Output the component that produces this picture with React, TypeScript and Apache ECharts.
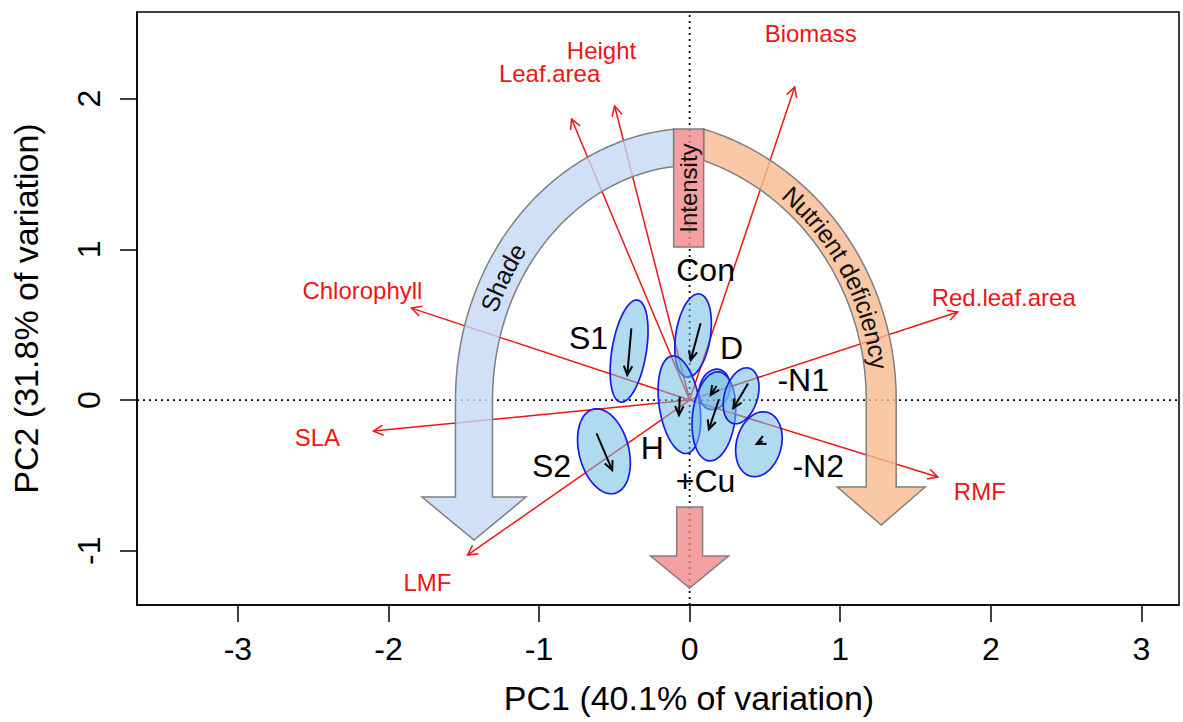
import React, { useEffect, useRef } from "react";
import * as echarts from "echarts";

const FONT = '"Liberation Sans", Arial, Helvetica, sans-serif';

// ---- Variable loadings (red arrows) ----
const loadingNames = ["Biomass", "Height", "Leaf.area", "Chlorophyll", "SLA", "LMF", "Red.leaf.area", "RMF"];
const loadingPC1 = [0.698, -0.498, -0.784, -1.847, -2.1, -1.475, 1.781, 1.648];
const loadingPC2 = [2.077, 1.951, 1.865, 0.61, -0.206, -1.029, 0.584, -0.511];
const loadingLabelPC1 = [0.804, -0.585, -0.93, -2.173, -2.472, -1.741, 2.086, 1.927];
const loadingLabelPC2 = [2.435, 2.322, 2.17, 0.73, -0.246, -1.214, 0.683, -0.61];

// ---- Treatment groups (ellipses + shift arrows) ----
const groupNames = ["Con", "D", "H", "+Cu", "S1", "S2", "-N1", "-N2"];
const groupPC1 = [0.023, 0.165, -0.068, 0.161, -0.402, -0.569, 0.342, 0.46];
const groupPC2 = [0.428, 0.071, -0.031, -0.108, 0.325, -0.34, 0.028, -0.293];
const groupSemiMajor = [0.279, 0.136, 0.327, 0.297, 0.343, 0.288, 0.191, 0.219];
const groupSemiMinor = [0.115, 0.1, 0.134, 0.142, 0.114, 0.165, 0.11, 0.149];
const groupAngle = [81.1, 75, 98.8, 83.6, 80.5, 104.5, 73.2, 75.3];
const shiftFromPC1 = [0.073, 0.179, -0.065, 0.195, -0.387, -0.618, 0.388, 0.485];
const shiftFromPC2 = [0.509, 0.093, 0.022, 0.005, 0.476, -0.221, 0.11, -0.272];
const shiftToPC1 = [0.007, 0.14, -0.071, 0.128, -0.414, -0.514, 0.29, 0.445];
const shiftToPC2 = [0.265, 0.033, -0.1, -0.194, 0.166, -0.465, -0.055, -0.292];
const groupLabelPC1 = [0.106, 0.279, -0.248, 0.106, -0.671, -0.917, 0.754, 0.854];
const groupLabelPC2 = [0.863, 0.345, -0.319, -0.537, 0.411, -0.438, 0.133, -0.438];

// ---- Axes ----
const xTicks = [-3, -2, -1, 0, 1, 2, 3];
const yTicks = [-1, 0, 1, 2];
const X_MIN = -3.67, X_MAX = 3.25, Y_MIN = -1.36, Y_MAX = 2.575;

// ---- Annotation shapes (in data units) ----
const bandNames = ["Shade", "Nutrient deficiency"];
const BAND_GEOM = [
  { side: -1, cx: 0.04, cy: 0, ao: 1.595, bo: 1.805, ai: 1.349, bi: 1.559, cut: -0.106, base: -0.644, headHalf: 0.345, tip: -0.929, textT: 151, fill: "rgba(195,216,245,0.8)" },
  { side: 1, cx: -0.395, cy: 0, ao: 1.767, bo: 1.871, ai: 1.568, bi: 1.672, cut: 0.093, base: -0.577, headHalf: 0.292, tip: -0.829, textT: 29, fill: "rgba(249,186,142,0.8)" },
];
const INTENSITY = { x0: -0.106, x1: 0.093, y0: 1.015, y1: 1.798 };
const DOWN_ARROW = { sx: 0.086, top: -0.71, base: -1.035, hx: 0.259, tip: -1.248 };

const RED = "#f01414";
const GREY = "#7f7f7f";

let measureCtx: CanvasRenderingContext2D | null = null;
function textWidth(s: string, size: number) {
  if (!measureCtx) measureCtx = document.createElement("canvas").getContext("2d");
  if (!measureCtx) return s.length * size * 0.55;
  measureCtx.font = `${size}px ${FONT}`;
  return measureCtx.measureText(s).width;
}

function arrowHead(from: number[], to: number[], len: number, deg: number) {
  const dx = to[0] - from[0], dy = to[1] - from[1];
  const d = Math.hypot(dx, dy) || 1;
  const bx = -dx / d, by = -dy / d;
  const a = (deg * Math.PI) / 180;
  const c = Math.cos(a), s = Math.sin(a);
  const p1 = [to[0] + len * (bx * c - by * s), to[1] + len * (bx * s + by * c)];
  const p2 = [to[0] + len * (bx * c + by * s), to[1] + len * (-bx * s + by * c)];
  return [p1, [to[0], to[1]], p2];
}

export default function App() {
  const ref = useRef<HTMLDivElement>(null);
  useEffect(() => {
    if (!ref.current) return;
    const chart = echarts.init(ref.current, undefined, { renderer: "svg" });

    const option: any = {
      animation: false,
      backgroundColor: "#ffffff",
      grid: { left: 137, right: 4, top: 12, bottom: 117, show: true, borderColor: "#000", borderWidth: 1.5 },
      xAxis: {
        type: "value", min: X_MIN, max: X_MAX,
        splitLine: { show: false },
        axisLine: { show: true, onZero: false, lineStyle: { color: "#000", width: 1.5 } },
        axisTick: { show: true, length: 17, customValues: xTicks, lineStyle: { color: "#000", width: 1.5 } },
        axisLabel: { customValues: xTicks, fontSize: 32, color: "#000", fontFamily: FONT, margin: 28 },
        name: "PC1 (40.1% of variation)", nameLocation: "middle", nameGap: 76,
        nameTextStyle: { fontSize: 34, color: "#000", fontFamily: FONT, padding: [0, 0, 0, 62] },
      },
      yAxis: {
        type: "value", min: Y_MIN, max: Y_MAX,
        splitLine: { show: false },
        axisLine: { show: true, onZero: false, lineStyle: { color: "#000", width: 1.5 } },
        axisTick: { show: true, length: 17, customValues: yTicks, lineStyle: { color: "#000", width: 1.5 } },
        axisLabel: { customValues: yTicks, fontSize: 32, color: "#000", fontFamily: FONT, margin: 32, rotate: 90 },
        name: "PC2 (31.8% of variation)", nameLocation: "middle", nameGap: 94,
        nameTextStyle: { fontSize: 34, color: "#000", fontFamily: FONT },
      },
      series: [
        // dotted zero lines
        {
          type: "custom", z: 1, silent: true, data: [[0, 0]],
          renderItem: (_p: any, api: any) => {
            const a = api.coord([X_MIN, 0]), b = api.coord([X_MAX, 0]);
            const c = api.coord([0, Y_MIN]), d = api.coord([0, Y_MAX]);
            const st = { stroke: "#000", lineWidth: 1.8, lineDash: [2, 4] };
            return {
              type: "group", children: [
                { type: "line", shape: { x1: a[0], y1: a[1], x2: b[0], y2: b[1] }, style: st },
                { type: "line", shape: { x1: c[0], y1: c[1], x2: d[0], y2: d[1] }, style: st },
              ],
            };
          },
        },
        // red loading arrows
        {
          type: "custom", z: 2, silent: true,
          data: loadingNames.map((n, i) => ({ name: n, value: [loadingPC1[i], loadingPC2[i]] })),
          renderItem: (_p: any, api: any) => {
            const o = api.coord([0, 0]);
            const t = api.coord([api.value(0), api.value(1)]);
            return {
              type: "group", children: [
                { type: "line", shape: { x1: o[0], y1: o[1], x2: t[0], y2: t[1] }, style: { stroke: RED, lineWidth: 1.5 } },
                { type: "polyline", shape: { points: arrowHead(o, t, 11, 28) }, style: { stroke: RED, lineWidth: 1.5, fill: null } },
              ],
            };
          },
        },
        // curved bands
        {
          type: "custom", z: 3, silent: true,
          data: bandNames.map((n, i) => ({ name: n, value: [BAND_GEOM[i].cx, BAND_GEOM[i].cy, i] })),
          renderItem: (p: any, api: any) => {
            const i = api.value(2);
            const g = BAND_GEOM[i];
            const name = bandNames[i];
            const pts: number[][] = [];
            const N = 90;
            const tO0 = Math.acos((g.cut - g.cx) / g.ao);
            const tEnd = g.side < 0 ? Math.PI : 0;
            for (let k = 0; k <= N; k++) {
              const t = tO0 + ((tEnd - tO0) * k) / N;
              pts.push(api.coord([g.cx + g.ao * Math.cos(t), g.cy + g.bo * Math.sin(t)]));
            }
            const sc = g.cx + (g.side * (g.ao + g.ai)) / 2;
            pts.push(api.coord([g.cx + g.side * g.ao, g.base]));
            pts.push(api.coord([sc + g.side * g.headHalf, g.base]));
            pts.push(api.coord([sc, g.tip]));
            pts.push(api.coord([sc - g.side * g.headHalf, g.base]));
            pts.push(api.coord([g.cx + g.side * g.ai, g.base]));
            const tI0 = Math.acos((g.cut - g.cx) / g.ai);
            for (let k = 0; k <= N; k++) {
              const t = tEnd + ((tI0 - tEnd) * k) / N;
              pts.push(api.coord([g.cx + g.ai * Math.cos(t), g.cy + g.bi * Math.sin(t)]));
            }
            const children: any[] = [
              { type: "polygon", shape: { points: pts }, style: { fill: g.fill, stroke: GREY, lineWidth: 1.5 } },
            ];
            // text along middle curve
            const am = (g.ao + g.ai) / 2, bm = (g.bo + g.bi) / 2;
            const tm = Math.acos((g.cut - g.cx) / am);
            const tA = g.side < 0 ? Math.PI : tm;
            const tB = g.side < 0 ? tm : 0;
            const M = 500;
            const P: number[][] = [];
            const L: number[] = [];
            const tc = (g.textT * Math.PI) / 180;
            let sC = 0;
            for (let k = 0; k <= M; k++) {
              const t = tA + ((tB - tA) * k) / M;
              const q = api.coord([g.cx + am * Math.cos(t), g.cy + bm * Math.sin(t)]);
              P.push(q);
              L.push(k === 0 ? 0 : L[k - 1] + Math.hypot(q[0] - P[k - 1][0], q[1] - P[k - 1][1]));
              const tPrev = tA + ((tB - tA) * (k - 1)) / M;
              if (k > 0 && ((tPrev >= tc && t <= tc) || (tPrev <= tc && t >= tc))) sC = L[k];
            }
            const fs = 25;
            const W = textWidth(name, fs);
            let acc = 0;
            for (let c = 0; c < name.length; c++) {
              const ch = name[c];
              const w = textWidth(ch, fs);
              const s = sC - W / 2 + acc + w / 2;
              acc += w;
              if (ch === " ") continue;
              let k = 0;
              while (k < M - 1 && L[k + 1] < s) k++;
              const seg = L[k + 1] - L[k] || 1;
              const f = Math.max(0, Math.min(1, (s - L[k]) / seg));
              const x = P[k][0] + (P[k + 1][0] - P[k][0]) * f;
              const y = P[k][1] + (P[k + 1][1] - P[k][1]) * f;
              const rot = Math.atan2(-(P[k + 1][1] - P[k][1]), P[k + 1][0] - P[k][0]);
              children.push({
                type: "text", x, y, rotation: rot,
                style: { text: ch, fill: "#111", fontSize: fs, fontFamily: FONT, align: "center", verticalAlign: "middle" },
              });
            }
            return { type: "group", children };
          },
        },
        // intensity box and downward arrow
        {
          type: "custom", z: 3, silent: true, data: [[0, 0]],
          renderItem: (_p: any, api: any) => {
            const a = api.coord([INTENSITY.x0, INTENSITY.y1]);
            const b = api.coord([INTENSITY.x1, INTENSITY.y0]);
            const mid = api.coord([(INTENSITY.x0 + INTENSITY.x1) / 2, (INTENSITY.y0 + INTENSITY.y1) / 2]);
            const d = DOWN_ARROW;
            const arrowPts = [
              [-d.sx, d.top], [d.sx, d.top], [d.sx, d.base], [d.hx, d.base], [0, d.tip], [-d.hx, d.base], [-d.sx, d.base],
            ].map((q) => api.coord(q));
            return {
              type: "group", children: [
                { type: "rect", shape: { x: a[0], y: a[1], width: b[0] - a[0], height: b[1] - a[1] }, style: { fill: "rgba(242,136,136,0.8)", stroke: GREY, lineWidth: 1.5 } },
                { type: "text", x: mid[0], y: mid[1], rotation: Math.PI / 2, style: { text: "Intensity", fill: "#111", fontSize: 24, fontFamily: FONT, align: "center", verticalAlign: "middle" } },
                { type: "polygon", shape: { points: arrowPts }, style: { fill: "rgba(242,136,136,0.8)", stroke: GREY, lineWidth: 1.5 } },
              ],
            };
          },
        },
        // group ellipses
        {
          type: "custom", z: 4, silent: true,
          data: groupNames.map((n, i) => ({ name: n, value: [groupPC1[i], groupPC2[i], groupSemiMajor[i], groupSemiMinor[i], groupAngle[i]] })),
          renderItem: (_p: any, api: any) => {
            const cx = api.value(0), cy = api.value(1), a = api.value(2), b = api.value(3);
            const phi = (api.value(4) * Math.PI) / 180;
            const pts: number[][] = [];
            for (let k = 0; k < 96; k++) {
              const t = (2 * Math.PI * k) / 96;
              const dx = a * Math.cos(t), dy = b * Math.sin(t);
              pts.push(api.coord([cx + dx * Math.cos(phi) - dy * Math.sin(phi), cy + dx * Math.sin(phi) + dy * Math.cos(phi)]));
            }
            return { type: "polygon", shape: { points: pts }, style: { fill: "rgba(110,188,226,0.55)", stroke: "#1a1ae6", lineWidth: 1.7 } };
          },
        },
        // group shift arrows
        {
          type: "custom", z: 5, silent: true,
          data: groupNames.map((n, i) => ({ name: n, value: [shiftFromPC1[i], shiftFromPC2[i], shiftToPC1[i], shiftToPC2[i]] })),
          renderItem: (_p: any, api: any) => {
            const s = api.coord([api.value(0), api.value(1)]);
            const e = api.coord([api.value(2), api.value(3)]);
            return {
              type: "group", children: [
                { type: "line", shape: { x1: s[0], y1: s[1], x2: e[0], y2: e[1] }, style: { stroke: "#000", lineWidth: 2 } },
                { type: "polyline", shape: { points: arrowHead(s, e, 10, 25) }, style: { stroke: "#000", lineWidth: 2, fill: null } },
              ],
            };
          },
        },
        // red variable labels
        {
          type: "custom", z: 6, silent: true,
          data: loadingNames.map((n, i) => ({ name: n, value: [loadingLabelPC1[i], loadingLabelPC2[i], i] })),
          renderItem: (_p: any, api: any) => {
            const c = api.coord([api.value(0), api.value(1)]);
            return { type: "text", x: c[0], y: c[1], style: { text: loadingNames[api.value(2)], fill: RED, fontSize: 24, fontFamily: FONT, align: "center", verticalAlign: "middle" } };
          },
        },
        // group labels
        {
          type: "custom", z: 6, silent: true,
          data: groupNames.map((n, i) => ({ name: n, value: [groupLabelPC1[i], groupLabelPC2[i], i] })),
          renderItem: (_p: any, api: any) => {
            const c = api.coord([api.value(0), api.value(1)]);
            return { type: "text", x: c[0], y: c[1], style: { text: groupNames[api.value(2)], fill: "#000", fontSize: 32, fontFamily: FONT, align: "center", verticalAlign: "middle" } };
          },
        },
      ],
    };
    chart.setOption(option);
    return () => chart.dispose();
  }, []);
  return <div ref={ref} style={{ position: "fixed", left: 0, top: 0, width: 1183, height: 722, background: "#fff" }} />;
}
